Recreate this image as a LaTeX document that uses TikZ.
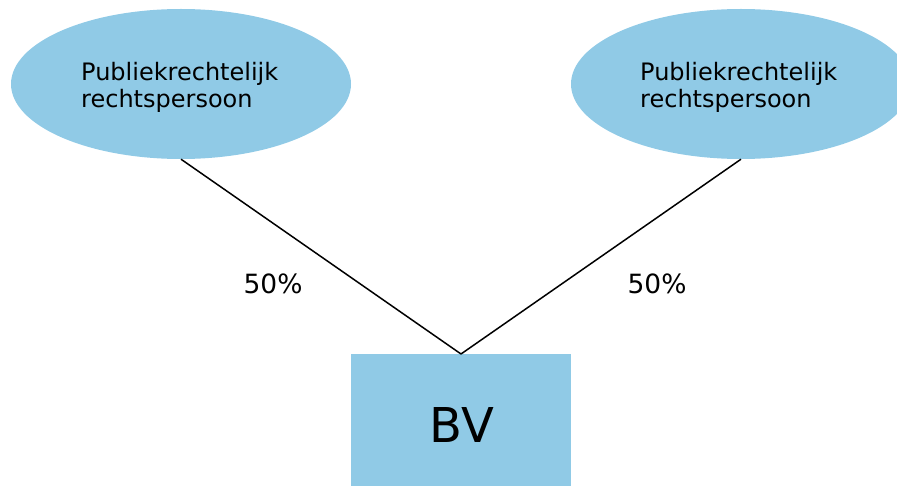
\documentclass[tikz,border=0pt]{standalone}
\usepackage{fontspec}
\setmainfont{DejaVu Sans}
\usetikzlibrary{shapes.geometric}
\definecolor{boxblue}{RGB}{144,202,230}
\begin{document}
\begin{tikzpicture}[x=1pt,y=-1pt,
  entity/.style={ellipse,fill=boxblue,minimum width=340pt,minimum height=150pt,inner sep=0pt},
  bvbox/.style={rectangle,fill=boxblue,minimum width=220pt,minimum height=140pt,inner sep=0pt},
  lbl/.style={font=\fontsize{24}{27}\selectfont,align=left,anchor=north west,inner sep=0pt},
  pct/.style={font=\fontsize{26.5}{30}\selectfont,inner sep=0pt,anchor=base},
  link/.style={draw=black,line width=1.5pt}]
\useasboundingbox (0,0) rectangle (897,486);
\clip (0,0) rectangle (897,486);
\node[entity] (L) at (181,84) {};
\node[entity] (R) at (741,84) {};
\node[bvbox,anchor=north] (BV) at (461,354) {};
\node[font=\fontsize{48}{52}\selectfont,anchor=base] (bvt) at (462,442) {BV};
\node[lbl] (Lt) at (81,62) {Publiekrechtelijk\\rechtspersoon};
\node[lbl] (Rt) at (640,62) {Publiekrechtelijk\\rechtspersoon};
\draw[link] (L.south) -- (BV.north);
\draw[link] (R.south) -- (BV.north);
\node[pct] (p1) at (273,294) {50\%};
\node[pct] (p2) at (657,294) {50\%};
\end{tikzpicture}
\end{document}
